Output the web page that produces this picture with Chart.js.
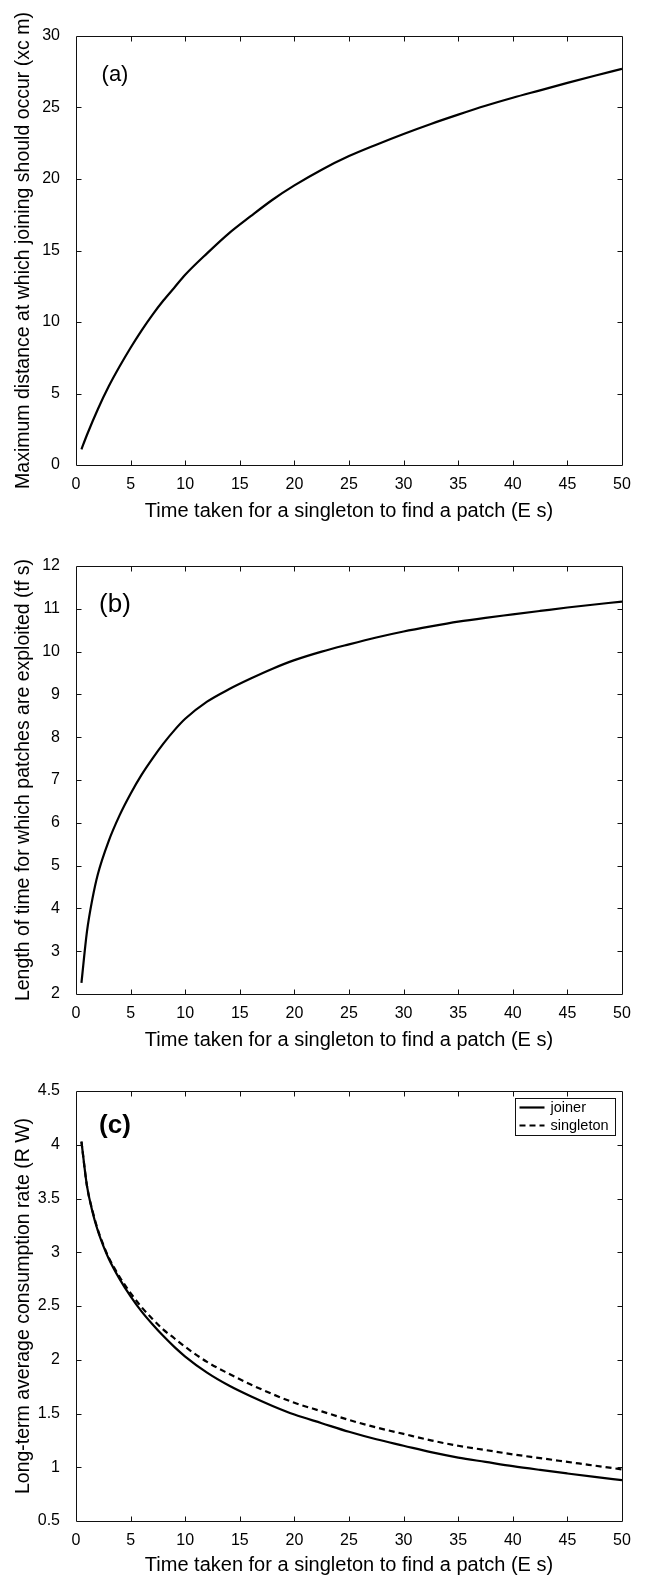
<!DOCTYPE html>
<html><head><meta charset="utf-8">
<script src="https://cdn.jsdelivr.net/npm/chart.js@4.4.0/dist/chart.umd.min.js"></script>
<style>
html,body{margin:0;padding:0;background:#fff;}
body{width:645px;height:1578px;position:relative;overflow:hidden;}
canvas{position:absolute;left:0;}
</style></head><body>
<canvas id="ca" width="645" height="525" style="top:0px"></canvas>
<canvas id="cb" width="645" height="525" style="top:525px"></canvas>
<canvas id="cc" width="645" height="528" style="top:1050px"></canvas>
<script>
// ---- data ----
const xTicks = [0, 5, 10, 15, 20, 25, 30, 35, 40, 45, 50];
const yTicksA = [0, 5, 10, 15, 20, 25, 30];
const yTicksB = [2, 3, 4, 5, 6, 7, 8, 9, 10, 11, 12];
const yTicksC = [0.5, 1, 1.5, 2, 2.5, 3, 3.5, 4, 4.5];

const xTitle = 'Time taken for a singleton to find a patch (E s)';
const yTitleA = 'Maximum distance at which joining should occur (xc m)';
const yTitleB = 'Length of time for which patches are exploited (tf s)';
const yTitleC = 'Long-term average consumption rate (R W)';
const panelLabels = ['(a)', '(b)', '(c)'];

const xA = [0.5, 1, 2, 3, 4, 5, 6, 7, 8, 9, 10, 12, 14, 16, 18, 20, 22.5, 25, 27.5, 30, 32.5, 35, 37.5, 40, 42.5, 45, 47.5, 50];
const distA = [1.1, 2.1, 3.9, 5.5, 6.9, 8.2, 9.4, 10.5, 11.5, 12.4, 13.3, 14.8, 16.2, 17.4, 18.55, 19.55, 20.65, 21.6, 22.4, 23.15, 23.85, 24.5, 25.12, 25.68, 26.2, 26.72, 27.22, 27.7];

const xB = [0.5, 1, 1.5, 2, 3, 4, 5, 6, 7, 8, 9, 10, 12, 14, 16, 18, 20, 22.5, 25, 27.5, 30, 32.5, 35, 37.5, 40, 42.5, 45, 47.5, 50];
const timeB = [2.26, 3.45, 4.22, 4.8, 5.58, 6.18, 6.68, 7.12, 7.5, 7.85, 8.16, 8.43, 8.83, 9.12, 9.37, 9.6, 9.8, 10.0, 10.17, 10.33, 10.47, 10.59, 10.7, 10.79, 10.87, 10.95, 11.03, 11.1, 11.17];

const xC = [0.5, 1, 1.5, 2, 2.5, 3, 4, 5, 6, 7, 8, 9, 10, 12, 14, 16, 18, 20, 22.5, 25, 27.5, 30, 32.5, 35, 37.5, 40, 42.5, 45, 47.5, 50];
const joiner = [4.03, 3.62, 3.38, 3.2, 3.06, 2.94, 2.75, 2.59, 2.45, 2.33, 2.22, 2.12, 2.03, 1.88, 1.76, 1.66, 1.57, 1.49, 1.41, 1.33, 1.26, 1.2, 1.14, 1.09, 1.05, 1.01, 0.975, 0.942, 0.91, 0.88];
const singleton = [4.03, 3.62, 3.39, 3.21, 3.07, 2.95, 2.77, 2.62, 2.49, 2.38, 2.28, 2.2, 2.12, 1.98, 1.87, 1.77, 1.68, 1.6, 1.52, 1.44, 1.37, 1.31, 1.25, 1.2, 1.16, 1.12, 1.085, 1.05, 1.015, 0.98];

// ---- helpers ----
const FONT = "'Liberation Sans', Arial, sans-serif";
const pts = (xs, ys) => xs.map((x, i) => ({x: x, y: ys[i]}));

const framePlugin = {
  id: 'frame',
  afterDatasetsDraw(chart) {
    const {ctx, chartArea: a, scales} = chart;
    ctx.save();
    ctx.strokeStyle = '#111';
    ctx.lineWidth = 1;
    const L = Math.round(a.left) + 0.5, R = Math.round(a.right) + 0.5;
    const T = Math.round(a.top) + 0.5, B = Math.round(a.bottom) + 0.5;
    ctx.beginPath();
    ctx.rect(L, T, R - L, B - T);
    const tl = 5;
    scales.x.ticks.forEach(t => {
      const px = Math.round(scales.x.getPixelForValue(t.value)) + 0.5;
      if (px <= L + 1 || px >= R - 1) return;
      ctx.moveTo(px, B); ctx.lineTo(px, B - tl);
      ctx.moveTo(px, T); ctx.lineTo(px, T + tl);
    });
    scales.y.ticks.forEach(t => {
      const py = Math.round(scales.y.getPixelForValue(t.value)) + 0.5;
      if (py <= T + 1 || py >= B - 1) return;
      ctx.moveTo(L, py); ctx.lineTo(L + tl, py);
      ctx.moveTo(R, py); ctx.lineTo(R - tl, py);
    });
    ctx.stroke();
    ctx.restore();
  },
  afterDraw(chart) {
    const o = chart.options.plugins.frame || {};
    const {ctx, chartArea: a} = chart;
    if (o.label) {
      ctx.save();
      ctx.fillStyle = '#000';
      ctx.font = o.labelFont;
      ctx.textAlign = 'center';
      ctx.textBaseline = 'middle';
      ctx.fillText(o.label, a.left + 39, a.top + o.labelDy);
      ctx.restore();
    }
    if (o.legend) {
      ctx.save();
      const bx = Math.round(a.right) - 107 + 0.5, by = Math.round(a.top) + 7 + 0.5;
      ctx.strokeStyle = '#111';
      ctx.lineWidth = 1;
      ctx.fillStyle = '#fff';
      ctx.fillRect(bx, by, 100, 37);
      ctx.strokeRect(bx, by, 100, 37);
      ctx.font = '14.5px ' + FONT;
      ctx.textBaseline = 'middle';
      chart.data.datasets.forEach((ds, i) => {
        const y = by + 9 + i * 18;
        ctx.strokeStyle = ds.borderColor;
        ctx.lineWidth = ds.borderWidth;
        ctx.setLineDash(ds.borderDash || []);
        ctx.beginPath();
        ctx.moveTo(bx + 4, y); ctx.lineTo(bx + 29, y);
        ctx.stroke();
        ctx.setLineDash([]);
        ctx.fillStyle = '#000';
        ctx.fillText(ds.label, bx + 35, y);
      });
      ctx.restore();
    }
  }
};

function makeChart(id, datasets, yTicks, yTitle, cfg) {
  const tickFont = {family: FONT, size: 16};
  const titleFont = {family: FONT, size: 20, lineHeight: 1};
  const yTitleFont = {family: FONT, size: 19.5, lineHeight: 1};
  return new Chart(document.getElementById(id), {
    type: 'line',
    data: {datasets: datasets},
    options: {
      responsive: false,
      animation: false,
      events: [],
      layout: {padding: {top: cfg.top, right: 23, left: 0, bottom: 0}},
      elements: {point: {radius: 0}, line: {cubicInterpolationMode: 'monotone'}},
      plugins: {
        legend: {display: false},
        tooltip: {enabled: false},
        frame: {label: cfg.label, labelFont: cfg.labelFont, labelDy: cfg.labelDy, legend: cfg.legend}
      },
      scales: {
        x: {
          type: 'linear', min: 0, max: 50,
          grid: {display: false},
          border: {display: false},
          afterBuildTicks: s => { s.ticks = xTicks.map(v => ({value: v})); },
          afterFit: s => { s.height = cfg.xh; },
          ticks: {font: tickFont, color: '#000', padding: 2, maxRotation: 0, autoSkip: false, callback: v => String(v)},
          title: {display: true, text: xTitle, font: titleFont, color: '#000', padding: {top: 0, bottom: cfg.xtp}}
        },
        y: {
          type: 'linear', min: yTicks[0], max: yTicks[yTicks.length - 1],
          grid: {display: false},
          border: {display: false},
          afterBuildTicks: s => { s.ticks = yTicks.map(v => ({value: v})); },
          afterFit: s => { s.width = 76; },
          ticks: {font: tickFont, color: '#000', padding: 8, autoSkip: false, callback: v => String(v)},
          title: {display: true, text: yTitle, font: yTitleFont, color: '#000', padding: {top: 14, bottom: 0}}
        }
      }
    },
    plugins: [framePlugin]
  });
}

const lineStyle = {borderColor: '#000', borderWidth: 2.2, fill: false, pointRadius: 0};

makeChart('ca', [Object.assign({label: 'distance', data: pts(xA, distA)}, lineStyle)],
  yTicksA, yTitleA, {top: 36, xh: 60, xtp: 4, label: panelLabels[0], labelFont: '22px ' + FONT, labelDy: 39});

makeChart('cb', [Object.assign({label: 'time', data: pts(xB, timeB)}, lineStyle)],
  yTicksB, yTitleB, {top: 41, xh: 56, xtp: 0, label: panelLabels[1], labelFont: '26px ' + FONT, labelDy: 39});

makeChart('cc', [
    Object.assign({label: 'joiner', data: pts(xC, joiner)}, lineStyle),
    Object.assign({label: 'singleton', data: pts(xC, singleton)}, lineStyle, {borderDash: [6, 4]})
  ],
  yTicksC, yTitleC, {top: 41, xh: 57, xtp: 3, label: panelLabels[2], labelFont: 'bold 26px ' + FONT, labelDy: 35, legend: true});
</script>
</body></html>
